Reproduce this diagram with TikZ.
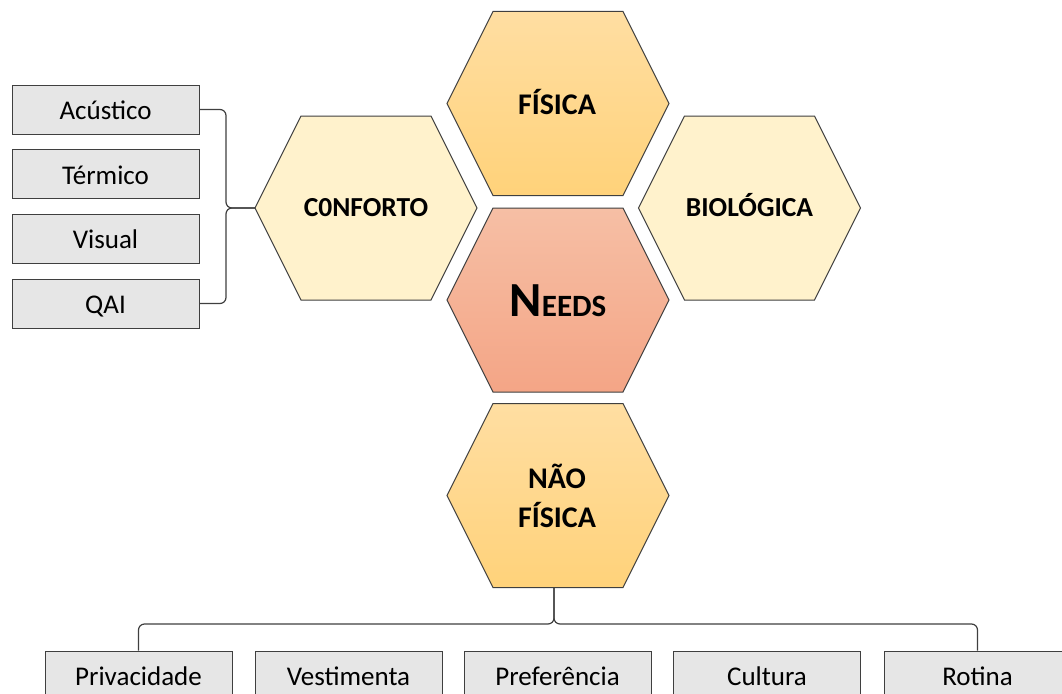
\documentclass[tikz,border=0pt]{standalone}
\usepackage{fontspec}
\setmainfont{Carlito}
\definecolor{lineC}{HTML}{3F3F3F}
\definecolor{boxC}{HTML}{E6E6E6}
\definecolor{lightHex}{HTML}{FFF2CC}
\definecolor{goldTop}{HTML}{FFDEA2}
\definecolor{goldBot}{HTML}{FFD27A}
\definecolor{salTop}{HTML}{F6BFA5}
\definecolor{salBot}{HTML}{F4A586}
\newcommand{\hexat}[3]{\path[hexline,#3] (#1-111,#2) -- (#1-65,#2-92) -- (#1+65,#2-92) -- (#1+111,#2) -- (#1+65,#2+92) -- (#1-65,#2+92) -- cycle;}
\begin{document}
\begin{tikzpicture}[x=1pt,y=-1pt,
  hexline/.style={draw=lineC, line width=1pt},
  goldhex/.style={top color=goldTop, bottom color=goldBot},
  salhex/.style={top color=salTop, bottom color=salBot},
  lighthex/.style={fill=lightHex},
  boxnode/.style={draw=lineC, fill=boxC, line width=1pt, minimum width=187pt, minimum height=49pt, inner sep=0pt, text height=20pt, text depth=0pt, font=\fontsize{27}{30}\selectfont},
  hexlabel/.style={font=\bfseries\fontsize{27.5}{30}\selectfont, anchor=base, inner sep=0pt},
  goldlabel/.style={font=\bfseries\fontsize{30}{39}\selectfont, anchor=base, inner sep=0pt, align=center},
  conn/.style={draw=lineC, line width=1.2pt, rounded corners=6pt}]
\useasboundingbox (0,0) rectangle (1062,693);
\clip (0,0) rectangle (1062,693);
% hexagons
\hexat{558}{103.5}{goldhex}
\hexat{366}{208}{lighthex}
\hexat{749.5}{208}{lighthex}
\hexat{558}{300}{salhex}
\hexat{558}{495.5}{goldhex}
\coordinate (confW) at (255,208);
\coordinate (naoS) at (554,587.5);
\coordinate (bjoin) at (554,624);
\coordinate (ljoin) at (226,208);
% labels
\node[goldlabel] (fis) at (557,114.5) {FÍSICA};
\node[hexlabel] (conf) at (366,216) {C0NFORTO};
\node[hexlabel] (bio) at (749.5,216.5) {BIOLÓGICA};
\node[anchor=base, inner sep=0pt, font=\bfseries] (needs) at (558,316.5) {{\fontsize{49}{50}\selectfont N}{\fontsize{31}{32}\selectfont EEDS}};
\node[goldlabel] (nao) at (557,527) {NÃO\\FÍSICA};
% left boxes
\node[boxnode] (acu) at (105.5,109.5) {Acústico};
\node[boxnode] (ter) at (105.5,174) {Térmico};
\node[boxnode] (vis) at (105.5,238.5) {Visual};
\node[boxnode] (qai) at (105.5,303.5) {QAI};
% bottom boxes
\node[boxnode] (priv) at (138.5,675.5) {Privacidade};
\node[boxnode] (vest) at (348.5,675.5) {Vestimenta};
\node[boxnode] (pref) at (557.5,675.5) {Preferência};
\node[boxnode] (cult) at (767,675.5) {Cultura};
\node[boxnode] (rot) at (977.5,675.5) {Rotina};
% braces
\draw[conn] (acu.east) -| (ljoin) -- (confW);
\draw[conn] (qai.east) -| (ljoin) -- (confW);
\draw[conn] (naoS) -- (bjoin) -| (priv.north);
\draw[conn] (naoS) -- (bjoin) -| (rot.north);
\end{tikzpicture}
\end{document}
